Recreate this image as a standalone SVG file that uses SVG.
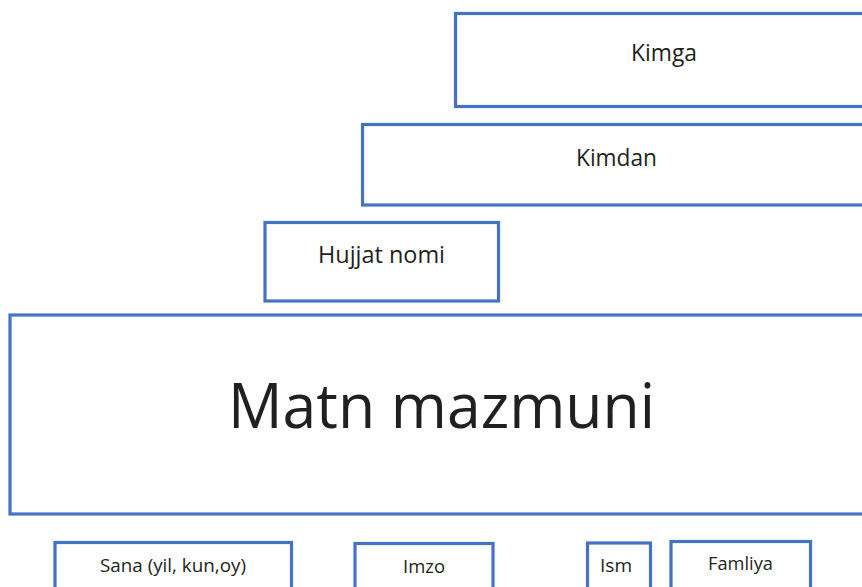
<svg xmlns="http://www.w3.org/2000/svg" width="862" height="587" viewBox="0 0 862 587">
<style>
.box{fill:#fff;stroke:#4472C4;stroke-width:3.2}
.t{font-family:"Open Sans","Noto Sans","Liberation Sans",sans-serif;fill:#231F20;text-anchor:middle}
.m{font-size:24px}
.s{font-size:19px}
.big{font-size:63px}
</style>
<rect width="862" height="587" fill="#fff"/>
<g id="kimga"><rect class="box" x="455.5" y="13.5" width="420" height="93"/><text class="t m" x="664" y="61" textLength="66" lengthAdjust="spacingAndGlyphs">Kimga</text></g>
<g id="kimdan"><rect class="box" x="362.5" y="124.5" width="513" height="80.5"/><text class="t m" x="616.5" y="166" textLength="81" lengthAdjust="spacingAndGlyphs">Kimdan</text></g>
<g id="hujjat"><rect class="box" x="265" y="222.5" width="233.5" height="78.5"/><text class="t m" x="381.5" y="263" textLength="127" lengthAdjust="spacingAndGlyphs">Hujjat nomi</text></g>
<g id="matn"><rect class="box" x="10" y="315" width="865" height="199"/><text class="t big" x="441.5" y="428" textLength="427" lengthAdjust="spacingAndGlyphs">Matn mazmuni</text></g>
<g id="sana"><rect class="box" x="55" y="542.5" width="236.5" height="60"/><text class="t s" x="173" y="572" textLength="146" lengthAdjust="spacingAndGlyphs">Sana (yil, kun,oy)</text></g>
<g id="imzo"><rect class="box" x="355" y="543.5" width="138" height="60"/><text class="t s" x="424" y="573" textLength="42" lengthAdjust="spacingAndGlyphs">Imzo</text></g>
<g id="ism"><rect class="box" x="587.5" y="543" width="63" height="60"/><text class="t s" x="616" y="572" textLength="32" lengthAdjust="spacingAndGlyphs">Ism</text></g>
<g id="famliya"><rect class="box" x="671" y="541.5" width="139.5" height="60"/><text class="t s" x="740.5" y="570" textLength="65" lengthAdjust="spacingAndGlyphs">Famliya</text></g>
<g id="connectors"></g>
</svg>
